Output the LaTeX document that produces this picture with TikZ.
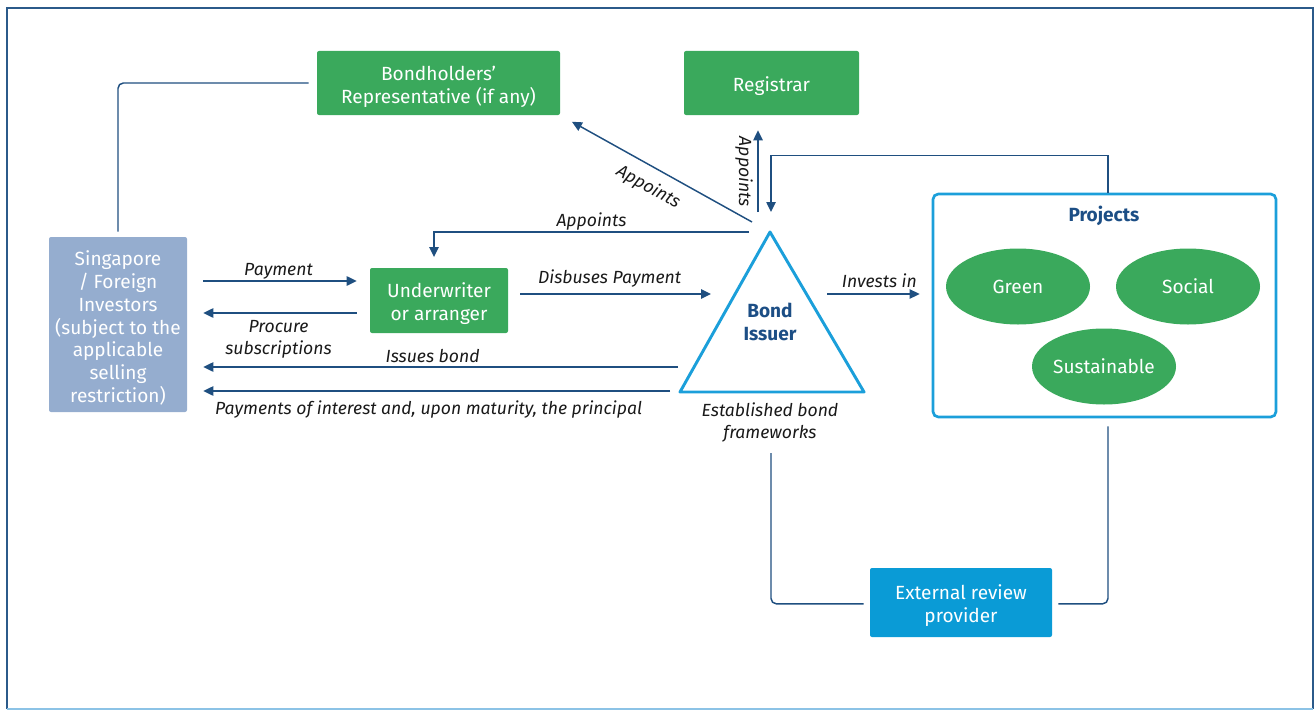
\documentclass[tikz,border=0pt]{standalone}
\usepackage{fontspec}
\setmainfont{Fira Sans}
\usetikzlibrary{arrows.meta,shapes.geometric}
\definecolor{boxgreen}{HTML}{3AA95C}
\definecolor{invblue}{HTML}{95ADCF}
\definecolor{revblue}{HTML}{0A9BD6}
\definecolor{tricol}{HTML}{1B9FDA}
\definecolor{linecol}{HTML}{1F4F80}
\definecolor{headcol}{HTML}{1C4E85}
\definecolor{framecol}{HTML}{2B5A8A}
\definecolor{framelow}{HTML}{8CC3E6}
\tikzset{
  x=0.75pt, y=-0.75pt,
  boxtext/.style={font=\fontsize{14.3}{17.2}\selectfont, text=white, align=center, inner sep=0pt},
  % box text sits a little below the geometric centre of its box
  intext/.style={label={[boxtext, yshift=-2.6pt]center:{#1}}},
  gbox/.style={fill=boxgreen, rounded corners=1.5pt, inner sep=0pt},
  oval/.style={boxtext, ellipse, fill=boxgreen, minimum width=108pt, minimum height=57pt},
  lbl/.style={font=\fontsize{13.2}{16.5}\selectfont\itshape, text=black!90, inner sep=1pt, align=center},
  ln/.style={draw=linecol, line width=1.1pt},
  arr/.style={ln, -{Triangle[length=7.5pt,width=7pt]}},
  heading/.style={font=\fontsize{14.3}{17.2}\selectfont\bfseries, text=headcol, align=center, inner sep=0pt},
}
\begin{document}
\begin{tikzpicture}
\useasboundingbox (0,0) rectangle (1316,710);
% outer frame
\draw[framecol, line width=1.1pt] (7,709) -- (7,8) -- (1313,8) -- (1313,709);
\draw[framelow, line width=1.1pt] (7,709) -- (1313,709);

% boxes
\node[gbox, minimum width=182.25pt, minimum height=48pt,
  intext={Bondholders'\\Representative (if any)}] (bh) at (438.5,83) {};
\node[gbox, minimum width=131.25pt, minimum height=48pt, intext={Registrar}] (reg) at (771.5,83) {};
\node[gbox, fill=invblue, minimum width=103.5pt, minimum height=131.25pt,
  intext={Singapore\\/ Foreign\\Investors\\(subject to the\\applicable\\selling\\restriction)}] (inv) at (118,324.5) {};
\node[gbox, minimum width=103.5pt, minimum height=48.75pt, intext={Underwriter\\or arranger}] (uw) at (439,300.5) {};
\node[gbox, fill=revblue, minimum width=136.5pt, minimum height=51.75pt,
  intext={External review\\provider}] (ext) at (961,602.5) {};

% projects panel
\node[draw=tricol, line width=2pt, rounded corners=4pt, minimum width=257.25pt, minimum height=167.25pt] (proj) at (1104.5,305.5) {};
\node[heading] (projt) at (1104,215.5) {Projects};
\node[oval] (green) at (1018,286.5) {Green};
\node[oval] (social) at (1188,286.5) {Social};
\node[oval] (sust) at (1104,366.5) {Sustainable};

% bond issuer triangle
\draw[tricol, line width=2.2pt, line join=round]
  (770,232) coordinate (apex) -- (680,392) coordinate (bl) -- (864,392) coordinate (br) -- cycle;
\node[heading] (iss) at (770,321.5) {Bond\\Issuer};
\node[lbl] (fwk) at (770,422.5) {Established bond\\frameworks};

% connector end points at the issuer
\coordinate (toBh) at (752,222);
\coordinate (toReg) at (758,212);
\coordinate (fromProj) at (771,212);
\coordinate (toUw) at (749,232);
\coordinate (disb) at (711,294);
\coordinate (invest) at (827,294);
\coordinate (issue) at (678,367);
\coordinate (interest) at (670,391);
\coordinate (fwbot) at (771,453);

% investors -- bondholders' representative
\draw[ln, rounded corners=4pt, shorten <=3.75pt, shorten >=6pt] (inv.north) -- (inv.north |- bh.west) -- (bh.west);

% appointments by the issuer
\draw[arr, shorten >=10pt] (toBh) -- (bh.south east)
  node[lbl, pos=0.49, sloped, below=7pt] {Appoints};
\draw[arr, shorten >=11.25pt] (toReg) -- (toReg |- reg.south);
\node[lbl, rotate=-90] (regapp) at (744,172) {Appoints};
\draw[arr, shorten >=8pt] (toUw) -| ([xshift=-3.75pt]uw.north)
  node[lbl, pos=0.25, above=-0.5pt] {Appoints};

% projects feed back to the issuer
\draw[arr] ([xshift=2.6pt]proj.north) -- ++(0,-37) -| (fromProj);

% payments and subscriptions
\draw[arr, shorten <=12pt, shorten >=9.75pt] (inv.east |- 0,281) -- (uw.west |- 0,281)
  node[lbl, midway, above=-0.5pt] {Payment};
\draw[arr, shorten <=9.75pt, shorten >=12pt] (uw.west |- 0,313) -- (inv.east |- 0,313)
  node[lbl, midway, below=4pt] {Procure\\subscriptions};
\draw[arr, shorten <=9pt] (uw.east |- disb) -- (disb)
  node[lbl, midway, above=3.5pt] {Disbuses Payment};
\draw[arr, shorten >=9pt] (invest) -- (invest -| proj.west)
  node[lbl, midway, above=3.5pt] {Invests in};
\draw[arr, shorten >=12pt] (issue) -- (issue -| inv.east)
  node[lbl, midway, above=1.5pt] {Issues bond};
\draw[arr, shorten >=12pt] (interest) -- (interest -| inv.east)
  node[lbl, midway, below=6pt] {Payments of interest and, upon maturity, the principal};

% external review links
\draw[ln, rounded corners=4pt, shorten >=4.5pt] (fwbot) |- ([yshift=-1pt]ext.west);
\draw[ln, rounded corners=4pt, shorten <=4.5pt, shorten >=6pt] ([yshift=-1pt]ext.east) -| ([xshift=2.6pt]proj.south);
\end{tikzpicture}
\end{document}
